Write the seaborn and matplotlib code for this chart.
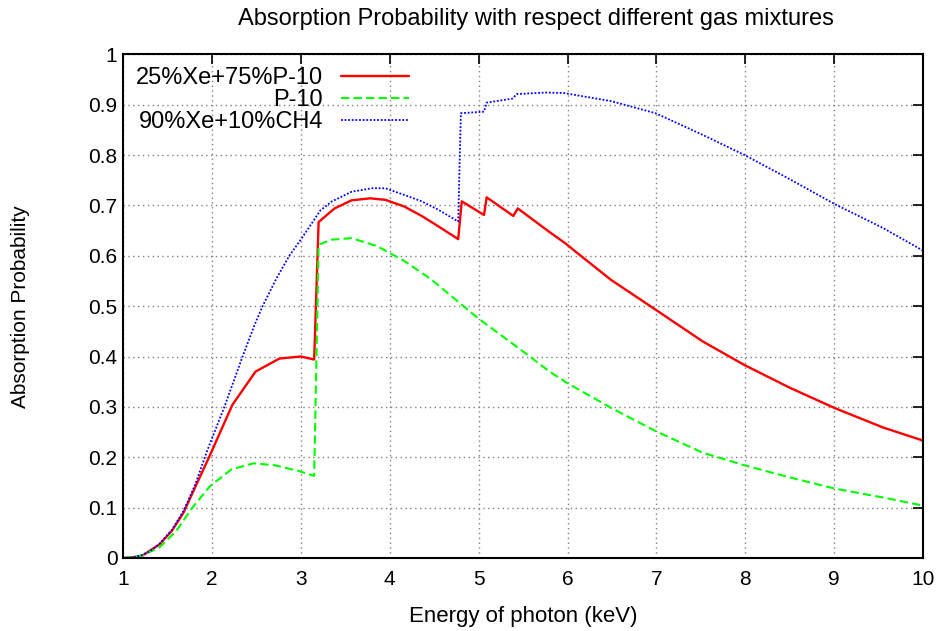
import matplotlib
matplotlib.use("Agg")
import matplotlib.pyplot as plt
import seaborn as sns
import pandas as pd

# ---- data ----
xe25_x = [1.0, 1.1, 1.22, 1.41, 1.55, 1.68, 1.81, 1.97, 2.23, 2.49, 2.76, 3.0, 3.15,
          3.2, 3.38, 3.57, 3.78, 3.95, 4.16, 4.36, 4.55, 4.77,
          4.81, 5.06, 5.09, 5.39, 5.44, 5.79, 5.98, 6.12, 6.49, 6.99, 7.52, 7.99,
          8.5, 9.0, 9.55, 10.0]
xe25_y = [0.0, 0.001, 0.005, 0.027, 0.054, 0.09, 0.14, 0.201, 0.304, 0.37, 0.396, 0.40, 0.394,
          0.667, 0.694, 0.710, 0.714, 0.711, 0.698, 0.679, 0.658, 0.633,
          0.708, 0.681, 0.716, 0.679, 0.694, 0.648, 0.624, 0.604, 0.552, 0.493, 0.430, 0.383,
          0.338, 0.298, 0.259, 0.233]

p10_x = [1.0, 1.2, 1.41, 1.6, 1.78, 1.98, 2.22, 2.47, 2.71, 2.97, 3.15,
         3.2, 3.35, 3.57, 3.86, 4.16, 4.46, 5.0, 5.5, 5.79, 5.98, 6.49, 6.99,
         7.52, 7.99, 8.5, 9.0, 9.55, 10.0]
p10_y = [0.0, 0.004, 0.021, 0.054, 0.1, 0.143, 0.176, 0.188, 0.184, 0.173, 0.163,
         0.622, 0.632, 0.635, 0.619, 0.59, 0.554, 0.475, 0.41, 0.371, 0.349, 0.298, 0.252,
         0.209, 0.184, 0.160, 0.138, 0.120, 0.104]

xe90_x = [1.0, 1.1, 1.2, 1.3, 1.41, 1.55, 1.68, 1.81, 1.95, 2.14, 2.345, 2.48, 2.57, 2.72,
          2.87, 3.0, 3.22, 3.35, 3.57, 3.80, 3.95, 4.16, 4.36, 4.55, 4.77,
          4.80, 5.06, 5.09, 5.38, 5.43, 5.76, 5.96, 6.49, 6.99, 7.52, 7.99,
          8.5, 9.0, 9.55, 10.0]
xe90_y = [0.0, 0.001, 0.005, 0.013, 0.028, 0.056, 0.093, 0.145, 0.2145, 0.30, 0.40, 0.463, 0.50,
          0.553, 0.60, 0.632, 0.69, 0.708, 0.727, 0.734, 0.734, 0.721, 0.708, 0.691, 0.668,
          0.883, 0.886, 0.904, 0.912, 0.921, 0.924, 0.923, 0.907, 0.883, 0.840, 0.800,
          0.752, 0.703, 0.655, 0.610]

labels = ["25%Xe+75%P-10", "P-10", "90%Xe+10%CH4"]
x_ticks = [1, 2, 3, 4, 5, 6, 7, 8, 9, 10]
y_ticks = [0, 0.1, 0.2, 0.3, 0.4, 0.5, 0.6, 0.7, 0.8, 0.9, 1]
y_ticklabels = ["0", "0.1", "0.2", "0.3", "0.4", "0.5", "0.6", "0.7", "0.8", "0.9", "1"]

sns.set_style("white")
plt.rcParams["font.family"] = ["Liberation Sans", "DejaVu Sans"]
plt.rcParams["text.color"] = "black"
plt.rcParams["axes.labelcolor"] = "black"

fig = plt.figure(figsize=(9.42, 6.31), dpi=100)
ax = fig.add_axes([0.1306, 0.1157, 0.8494, 0.7983])

series = [
    (xe25_x, xe25_y, labels[0], "#ff0000", "-", 1.7),
    (p10_x, p10_y, labels[1], "#00ff00", (0, (4, 2)), 1.5),
    (xe90_x, xe90_y, labels[2], "#0000ff", (0, (1, 1)), 1.3),
]
for xs, ys, lab, col, ls, lw in series:
    df = pd.DataFrame({"x": xs, "y": ys})
    sns.lineplot(data=df, x="x", y="y", ax=ax, color=col, label=lab,
                 estimator=None, sort=False, linewidth=lw, linestyle=ls)

ax.set_xlim(1, 10)
ax.set_ylim(0, 1)
ax.set_xticks(x_ticks)
ax.set_xticklabels([str(t) for t in x_ticks])
ax.set_yticks(y_ticks)
ax.set_yticklabels(y_ticklabels)
ax.grid(True, color="#808080", linestyle=(0, (1, 2.5)), linewidth=1.0)
ax.tick_params(direction="in", length=7, width=1.2, top=True, right=True,
               labelsize=15, colors="black")
ax.tick_params(axis="y", pad=4)
ax.tick_params(axis="x", pad=9)
for s in ax.spines.values():
    s.set_visible(True)
    s.set_color("black")
    s.set_linewidth(1.5)

ax.set_xlabel("Energy of photon (keV)", fontsize=16)
ax.set_ylabel("Absorption Probability", fontsize=15)
ax.xaxis.set_label_coords(0.5, -0.117)
ax.yaxis.set_label_coords(-0.128, 0.5)
ax.xaxis.label.set_va("center")
ax.yaxis.label.set_va("center")
fig.text(0.569, 0.970, "Absorption Probability with respect different gas mixtures",
         fontsize=17, ha="center", va="center", color="black")

leg = ax.legend(loc="upper right", bbox_to_anchor=(0.38, 1.01), frameon=False,
                markerfirst=False, fontsize=17, handlelength=2.9, handletextpad=0.75,
                labelspacing=0.0, borderpad=0.25)
for t in leg.get_texts():
    t.set_color("black")

fig.savefig("out.png", dpi=100)
